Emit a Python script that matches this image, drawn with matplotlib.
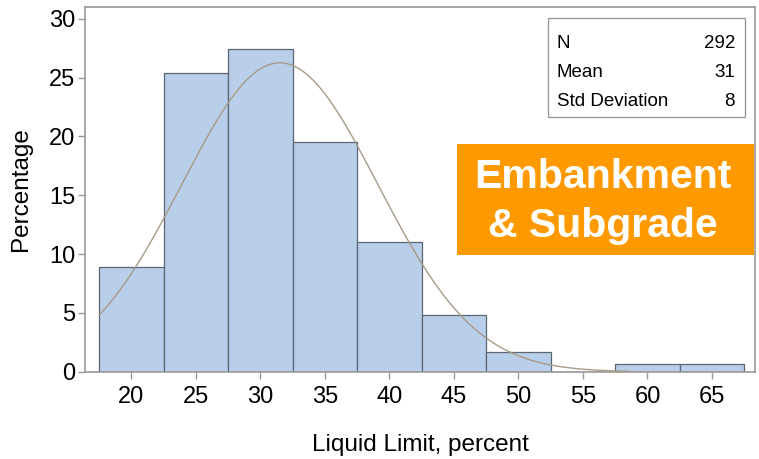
import numpy as np
import matplotlib.pyplot as plt
from matplotlib.patches import Rectangle

plt.rcParams['font.family'] = ['Liberation Sans', 'DejaVu Sans']

# histogram data (percent per 5-unit bin)
bin_mid = [20, 25, 30, 35, 40, 45, 50, 55, 60, 65]
pct = [8.9, 25.4, 27.4, 19.5, 11.0, 4.8, 1.7, 0.0, 0.7, 0.7]
bin_w = 5

# fitted normal curve parameters
n_obs = 292
mu = 31.5
sigma = 7.6
curve_lo, curve_hi = 17.5, 58.6

fig = plt.figure(figsize=(7.59, 4.59), dpi=100)
ax = fig.add_axes([0.112, 0.19, 0.883, 0.795])

ax.bar(bin_mid, pct, width=bin_w, color='#b9cee8', edgecolor='#5b6573', linewidth=0.9, zorder=2)

xs = np.linspace(curve_lo, curve_hi, 300)
ys = 100 * bin_w / (sigma * np.sqrt(2 * np.pi)) * np.exp(-0.5 * ((xs - mu) / sigma) ** 2)
ax.plot(xs, ys, color='#a89a88', linewidth=1.0, zorder=3)

ax.set_xlim(16.4, 68.35)
ax.set_ylim(0, 31.0)
ax.set_xticks(bin_mid)
ax.set_yticks([0, 5, 10, 15, 20, 25, 30])
ax.tick_params(labelsize=17, length=5, color='#999999', width=1)
ax.tick_params(axis='x', pad=5)
ax.tick_params(axis='y', pad=2)
for s in ax.spines.values():
    s.set_color('#999999')
    s.set_linewidth(1.2)

ax.set_xlabel('Liquid Limit, percent', fontsize=17.5, labelpad=19)
ax.set_ylabel('Percentage', fontsize=17.5, labelpad=12)

# statistics inset box
box = Rectangle((548 / 759, (459 - 117) / 459), (745 - 548) / 759, (117 - 18) / 459,
                transform=fig.transFigure, facecolor='white', edgecolor='#999999', lw=1.0)
fig.patches.append(box)
stats_lab = ['N', 'Mean', 'Std Deviation']
stats_val = [str(n_obs), '31', '8']
for i, (lab, val) in enumerate(zip(stats_lab, stats_val)):
    yy = (459 - 43 - i * 29.5) / 459
    fig.text(557 / 759, yy, lab, fontsize=13.5, va='center', ha='left')
    fig.text(735 / 759, yy, val, fontsize=13.5, va='center', ha='right')

# orange label
obox = Rectangle((457 / 759, (459 - 255) / 459), (754 - 457) / 759, (255 - 144) / 459,
                 transform=fig.transFigure, facecolor='#ff9900', edgecolor='none')
fig.patches.append(obox)
fig.text(603 / 759, (459 - 177) / 459, 'Embankment', color='white', fontsize=29.5,
         fontweight='bold', ha='center', va='center')
fig.text(603 / 759, (459 - 226) / 459, '& Subgrade', color='white', fontsize=29.5,
         fontweight='bold', ha='center', va='center')

fig.savefig('out.png', dpi=100)
